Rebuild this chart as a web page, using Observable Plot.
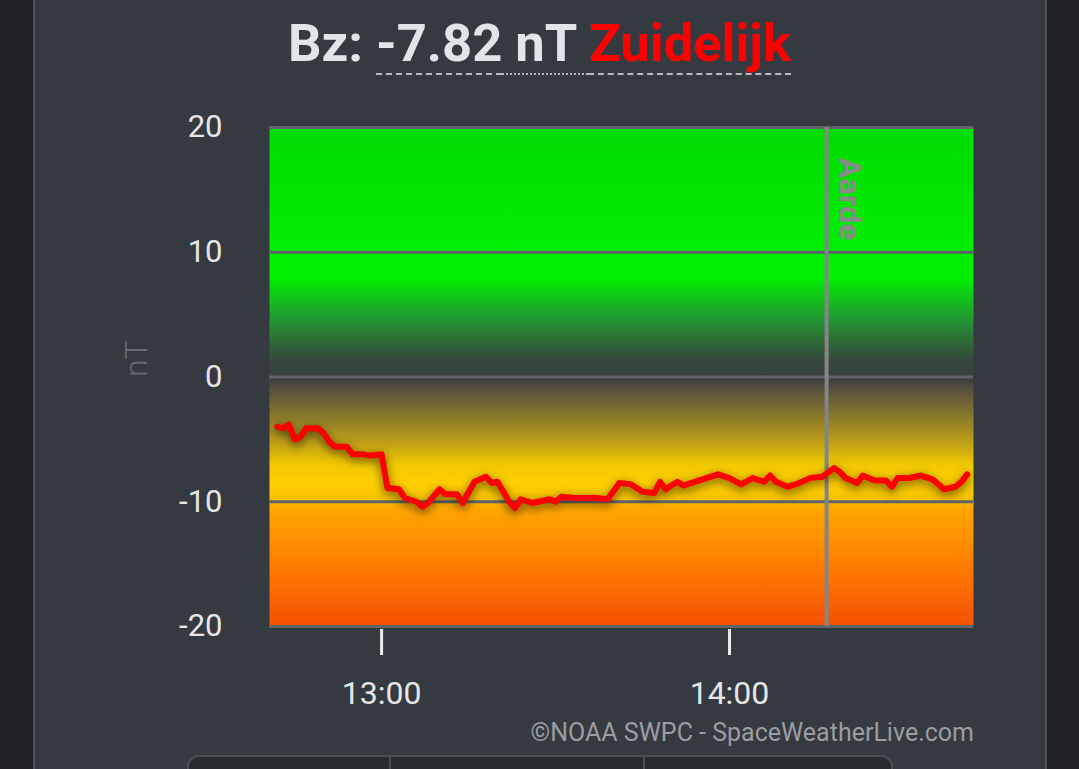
<!DOCTYPE html>
<html>
<head>
<meta charset="utf-8">
<script src="https://cdn.jsdelivr.net/npm/d3@7"></script>
<script src="https://cdn.jsdelivr.net/npm/@observablehq/plot@0.6"></script>
<style>
  html, body { margin: 0; padding: 0; }
  body { width: 1079px; height: 769px; background: #1f2125; position: relative; overflow: hidden; font-family: Roboto, "Noto Sans", sans-serif; }
  #panel { position: absolute; left: 33px; top: -10px; width: 1010px; height: 800px; background: #353940; border-left: 2px solid #4e5258; border-right: 2px solid #4e5258; }
  #title { position: absolute; left: 0; top: 17px; width: 1079px; text-align: center; font-size: 52.5px; line-height: 52px; font-weight: 700; color: #e2e4ea; white-space: nowrap; }
  #title .v { text-decoration: underline dashed #b9bcc2 2px; text-underline-offset: 12px; }
  #title .u { text-decoration: underline dotted #b9bcc2 2px; text-underline-offset: 12px; }
  #title .z { color: #ff0000; text-decoration: underline dashed #b9bcc2 2px; text-underline-offset: 12px; }
  #chart { position: absolute; left: 0; top: 0; }
  #caption { position: absolute; right: 105px; top: 720px; font-size: 25px; line-height: 25px; color: #9b9da1; white-space: nowrap; }
  #buttons { position: absolute; left: 187px; top: 755px; width: 702px; height: 40px; background: #272a2f; border: 2px solid #4b4e54; border-radius: 12px; }
  #buttons .d { position: absolute; top: 0; width: 2px; height: 40px; background: #4b4e54; }
</style>
</head>
<body>
<div id="panel"></div>
<div id="title">Bz: <span class="v">-7.82</span><span class="u"> nT </span><span class="z">Zuidelijk</span></div>
<div id="chart"></div>
<div id="caption">©NOAA SWPC - SpaceWeatherLive.com</div>
<div id="buttons"><div class="d" style="left:200px"></div><div class="d" style="left:454px"></div></div>
<script>
// ---- data ----
const times = ["12:42","12:43","12:44","12:45","12:46","12:47","12:49","12:50","12:51","12:52",
  "12:54","12:55","12:57","12:58","13:00","13:01","13:03","13:04","13:06","13:07",
  "13:08","13:10","13:11","13:13","13:14","13:16","13:17","13:18","13:19","13:20",
  "13:22","13:23","13:24","13:26","13:29","13:30","13:31","13:33","13:35","13:37",
  "13:39","13:41","13:43","13:45","13:47","13:48","13:49","13:51","13:52","13:54",
  "13:56","13:58","14:00","14:02","14:04","14:06","14:07","14:08","14:10","14:12",
  "14:14","14:16","14:18","14:19","14:20","14:22","14:23","14:25","14:27","14:28",
  "14:29","14:31","14:33","14:35","14:37","14:39","14:40","14:41"];
const bz = [-4.0,-4.1,-3.8,-5.0,-4.8,-4.1,-4.1,-4.5,-5.2,-5.6,
  -5.6,-6.2,-6.2,-6.3,-6.2,-8.9,-9.0,-9.7,-10.0,-10.4,
  -10.1,-9.0,-9.4,-9.4,-10.1,-8.4,-8.2,-8.0,-8.5,-8.4,
  -10.0,-10.5,-9.8,-10.1,-9.8,-10.0,-9.6,-9.7,-9.7,-9.7,
  -9.8,-8.5,-8.6,-9.2,-9.3,-8.4,-9.0,-8.4,-8.7,-8.4,
  -8.1,-7.8,-8.1,-8.6,-8.1,-8.4,-7.9,-8.4,-8.8,-8.5,
  -8.1,-8.0,-7.3,-7.6,-8.1,-8.5,-7.9,-8.3,-8.3,-8.8,
  -8.1,-8.1,-7.9,-8.2,-9.0,-8.8,-8.4,-7.8];
const timeDomain = ["12:40:40", "14:42:05"];
const xTickLabels = ["13:00", "14:00"];
const yTicks = [20, 10, 0, -10, -20];
const earthTime = "14:16:45";
const earthLabel = "Aarde";
const yLabel = "nT";
const gradValues = [20, 10, 8, 5, 3.5, 1.4, 0, -1.3, -3.2, -5.3, -7, -8.5, -9.9, -10.4, -13, -16, -20];
const gradColors = ["#00dc00","#00ee00","#00f000","#1fa030","#2a7a35","#334a3c","#3a3d3f","#5f553a","#8a7a2a","#c0a018","#f0c800","#ffd000","#f5c000","#ffa800","#ff9000","#ff7400","#f25000"];

// ---- build ----
const parseT = (s) => d3.utcParse(s.length > 5 ? "%H:%M:%S" : "%H:%M")(s);
const data = times.map((t, i) => ({t: parseT(t), v: bz[i]}));
const xTicks = xTickLabels.map(parseT);
const earth = parseT(earthTime);

const gradientDefs = (index, scales) => {
  const defs = d3.create("svg:defs");
  const g = defs.append("linearGradient")
    .attr("id", "bzgrad")
    .attr("gradientUnits", "userSpaceOnUse")
    .attr("x1", 0).attr("x2", 0)
    .attr("y1", scales.y(20)).attr("y2", scales.y(-20));
  gradValues.forEach((v, i) => {
    g.append("stop").attr("offset", (20 - v) / 40).attr("stop-color", gradColors[i]);
  });
  return defs.node();
};

const plot = Plot.plot({
  width: 1079,
  height: 769,
  marginTop: 127,
  marginBottom: 143,
  marginLeft: 269,
  marginRight: 106,
  style: {background: "transparent", fontFamily: "Roboto, sans-serif", overflow: "visible"},
  x: {type: "utc", domain: timeDomain.map(parseT)},
  y: {domain: [-20, 20]},
  marks: [
    gradientDefs,
    Plot.frame({fill: "url(#bzgrad)", stroke: "none"}),
    Plot.ruleY(yTicks, {stroke: "#606368", strokeWidth: 3}),
    Plot.ruleX([earth], {stroke: "#858585", strokeWidth: 4}),
    Plot.line(data, {x: "t", y: "v", stroke: "#ff0000", strokeWidth: 6, strokeLinejoin: "round", strokeLinecap: "round"}),
    Plot.text([earthLabel], {x: () => earth, frameAnchor: "top", rotate: 90, textAnchor: "start", lineAnchor: "bottom", dx: 12, dy: 30, fontSize: 31, fontWeight: 700, fill: "#8a8a8a"}),
    Plot.axisY({ticks: yTicks, tickSize: 0, tickPadding: 47, tickFormat: (d) => String(d), fontSize: 31, fill: "#e6e6e6", label: null}),
    Plot.axisX({ticks: xTicks, tickSize: 26, dy: 3, tickFormat: () => "", stroke: "#ececec", strokeWidth: 3, label: null}),
    Plot.axisX({ticks: xTicks, tickSize: 0, tickPadding: 55, tickFormat: d3.utcFormat("%H:%M"), fontSize: 32, fill: "#e6e6e6", label: null}),
    Plot.text([yLabel], {frameAnchor: "left", dx: -133, rotate: -90, fontSize: 32, fill: "#676b70", fontWeight: 300})
  ]
});
d3.select(plot).selectAll('g[aria-label="line"] path').style("filter", "drop-shadow(0px 3px 5px rgba(30,20,0,0.7))");
document.getElementById("chart").appendChild(plot);
</script>
</body>
</html>
